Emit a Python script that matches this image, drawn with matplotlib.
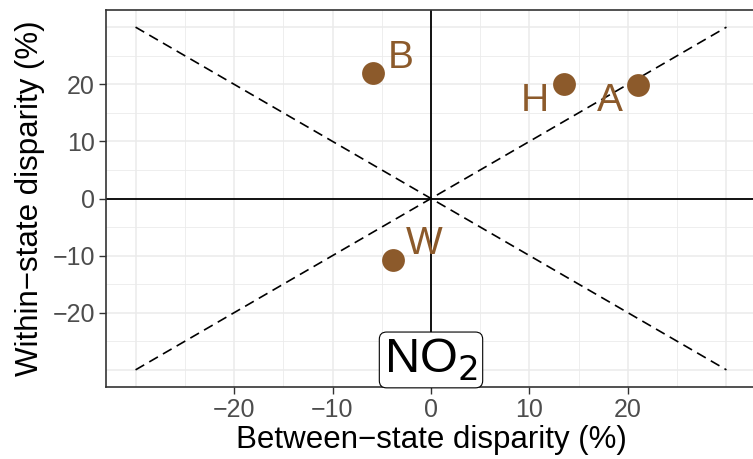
import matplotlib
matplotlib.use("Agg")
import matplotlib.pyplot as plt
import numpy as np

plt.rcParams["font.family"] = ["Liberation Sans", "DejaVu Sans"]

labels = ["B", "H", "A", "W"]
between = [-5.9, 13.5, 21.0, -3.9]
within = [22.0, 20.1, 19.9, -10.7]
label_offsets = [(28, 15), (-29, -17), (-28, -16), (32, 16)]
xticks = [-20, -10, 0, 10, 20]
yticks = [-20, -10, 0, 10, 20]
diag = [-30, 30]

brown = "#8C5A2B"
fig = plt.figure(figsize=(7.53, 4.59), dpi=100)
ax = fig.add_axes([106 / 753, 72 / 459, 650 / 753, 377 / 459])
ax.set_xlim(-33, 33)
ax.set_ylim(-33, 33)

for v in np.arange(-30, 31, 5):
    lw = 1.1 if v % 10 == 0 else 0.6
    ax.axvline(v, color="#EBEBEB", lw=lw, zorder=0)
    ax.axhline(v, color="#EBEBEB", lw=lw, zorder=0)

ax.axhline(0, color="black", lw=1.3, zorder=1)
ax.axvline(0, color="black", lw=1.3, zorder=1)
ax.plot(diag, [30, -30], ls=(0, (6, 3.5)), color="black", lw=1.2, zorder=2)
ax.plot(diag, [-30, 30], ls=(0, (6, 3.5)), color="black", lw=1.2, zorder=2)

ax.scatter(between, within, s=270, color=brown, zorder=3, linewidths=0)
for lab, x, y, off in zip(labels, between, within, label_offsets):
    ax.annotate(lab, (x, y), xytext=off, textcoords="offset pixels",
                ha="center", va="center", fontsize=28, color=brown, zorder=4)

ax.annotate("NO$_2$", (0, 0), xycoords=("data", "axes fraction"),
            xytext=(0, 4), textcoords="offset pixels",
            ha="center", va="bottom", fontsize=35, color="black",
            bbox=dict(boxstyle="round,pad=0.1,rounding_size=0.15", fc="white", ec="black", lw=0.8),
            zorder=5)

ax.set_xticks(xticks)
ax.set_yticks(yticks)
ax.set_xticklabels([str(t).replace("-", "\u2212") for t in xticks])
ax.set_yticklabels([str(t).replace("-", "\u2212") for t in yticks])
ax.tick_params(colors="#333333", labelcolor="#4D4D4D", labelsize=18, length=5, width=1, pad=3)
for s in ax.spines.values():
    s.set_color("#333333")
    s.set_linewidth(1.2)

ax.set_xlabel("Between\u2212state disparity (%)", fontsize=22.5, labelpad=2)
ax.set_ylabel("Within\u2212state disparity (%)", fontsize=22.5, labelpad=5)

fig.savefig("out.png", dpi=100)
